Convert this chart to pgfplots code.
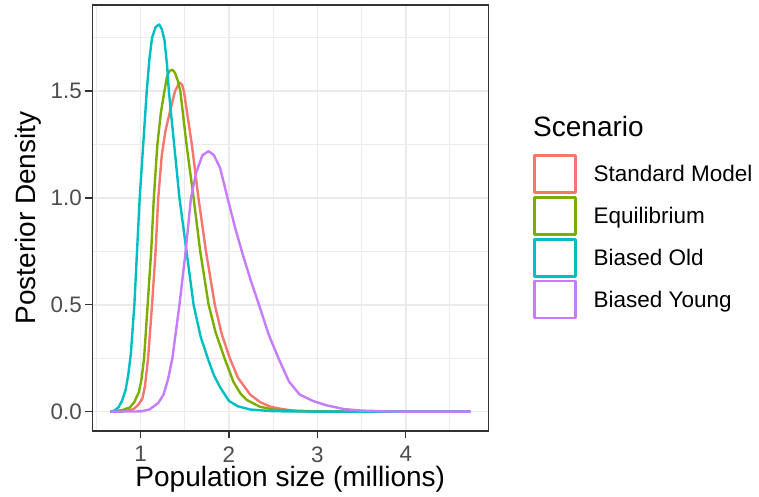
\documentclass[border=0pt]{standalone}
\usepackage{pgfplots}
\pgfplotsset{compat=1.18}
\usepackage{fontspec}
\setmainfont{Liberation Sans}
\definecolor{cRed}{HTML}{F8766D}
\definecolor{cGreen}{HTML}{7CAE00}
\definecolor{cCyan}{HTML}{00BFC4}
\definecolor{cPurple}{HTML}{C77CFF}
\definecolor{gridgray}{HTML}{EBEBEB}
\definecolor{gtwenty}{HTML}{333333}
\definecolor{gthirty}{HTML}{4D4D4D}
\begin{document}
\begin{tikzpicture}[x=1pt,y=1pt]
\path[use as bounding box] (0,0) rectangle (759,497);
\begin{axis}[
  at={(92.3pt,66pt)}, anchor=south west,
  scale only axis, width=396pt, height=426pt,
  xmin=0.454, xmax=4.934, ymin=-0.0906, ymax=1.903,
  xtick={1,2,3,4}, ytick={0,0.5,1,1.5},
  minor xtick={0.5,1.5,2.5,3.5,4.5}, minor ytick={0.25,0.75,1.25,1.75},
  grid=both,
  major grid style={color=gridgray, line width=1.6pt},
  minor grid style={color=gridgray, line width=1.0pt},
  axis line style={color=gtwenty, line width=1.4pt},
  tick align=outside, major tick length=7pt, minor tick length=0pt,
  tick style={color=gtwenty, line width=1.4pt},
  tick pos=left,
  /pgf/number format/assume math mode=true,
  tick label style={font=\fontsize{22.4}{26}\selectfont, color=gthirty},
  y tick label style={/pgf/number format/.cd, fixed, fixed zerofill, precision=1, /tikz/.cd},
  x tick label style={yshift=-5pt, /pgf/number format/.cd, fixed, precision=0, /tikz/.cd},
  xlabel={Population size (millions)},
  ylabel={Posterior Density},
  xlabel style={at={(axis description cs:0.5,-0.131)}, anchor=base, font=\fontsize{28}{32}\selectfont},
  ylabel style={at={(axis description cs:-0.144,0.5)}, anchor=base, font=\fontsize{28}{32}\selectfont},
  legend style={at={(1.113,0.650)}, anchor=north west, draw=none, fill=none, inner sep=0pt,
    row sep=2.5pt, column sep=17pt, font=\fontsize{22.5}{26}\selectfont,
    nodes={inner sep=0pt}},
  legend cell align=left,
  legend image code/.code={\draw[#1, line width=2.4pt] (0pt,-18.5pt) rectangle (41pt,18.5pt);},
  every axis plot/.append style={line width=2.4pt, line join=round},
]
\addplot[cRed] table {
0.658 0
0.72 0.001
0.85 0.005
0.92 0.012
0.97 0.03
1.02 0.06
1.05 0.12
1.085 0.25
1.13 0.50
1.17 0.75
1.20 1.00
1.24 1.20
1.28 1.31
1.33 1.40
1.39 1.50
1.44 1.54
1.47 1.53
1.49 1.50
1.58 1.25
1.655 1.00
1.74 0.75
1.84 0.50
1.92 0.36
2.01 0.25
2.10 0.16
2.24 0.08
2.35 0.045
2.47 0.023
2.60 0.012
2.73 0.005
3.00 0.001
3.20 0
4.73 0
};
\addlegendentry{Standard Model}
\addplot[cGreen] table {
0.658 0
0.69 0.001
0.80 0.008
0.88 0.02
0.93 0.045
0.98 0.09
1.01 0.15
1.04 0.25
1.08 0.50
1.12 0.75
1.15 1.00
1.19 1.25
1.23 1.40
1.27 1.50
1.30 1.57
1.33 1.595
1.36 1.60
1.39 1.585
1.42 1.55
1.45 1.50
1.52 1.25
1.60 1.00
1.675 0.75
1.77 0.50
1.85 0.37
1.95 0.25
2.05 0.14
2.13 0.085
2.20 0.055
2.35 0.023
2.50 0.01
2.75 0.003
3.00 0
4.73 0
};
\addlegendentry{Equilibrium}
\addplot[cCyan] table {
0.658 0
0.70 0.004
0.75 0.02
0.79 0.05
0.83 0.10
0.86 0.17
0.89 0.27
0.93 0.50
0.96 0.75
0.99 1.00
1.03 1.25
1.07 1.50
1.10 1.65
1.13 1.75
1.17 1.80
1.21 1.812
1.24 1.79
1.27 1.74
1.30 1.62
1.32 1.50
1.38 1.25
1.44 1.00
1.52 0.75
1.60 0.50
1.68 0.35
1.76 0.25
1.83 0.17
1.90 0.114
2.00 0.05
2.10 0.025
2.24 0.01
2.50 0.002
3.00 0
4.73 0
};
\addlegendentry{Biased Old}
\addplot[cPurple] table {
0.658 0
1.00 0.001
1.10 0.01
1.20 0.04
1.26 0.08
1.31 0.15
1.36 0.25
1.44 0.50
1.51 0.75
1.57 1.00
1.63 1.12
1.70 1.20
1.77 1.219
1.83 1.20
1.90 1.14
1.99 0.99
2.07 0.86
2.16 0.73
2.25 0.61
2.34 0.50
2.45 0.36
2.56 0.25
2.68 0.14
2.80 0.08
2.95 0.05
3.10 0.03
3.30 0.012
3.50 0.005
3.80 0.001
4.00 0
4.73 0
};
\addlegendentry{Biased Young}
\end{axis}
\node[anchor=base west, inner sep=0pt, font=\fontsize{28}{32}\selectfont] at (533,360) {Scenario};
\end{tikzpicture}
\end{document}
